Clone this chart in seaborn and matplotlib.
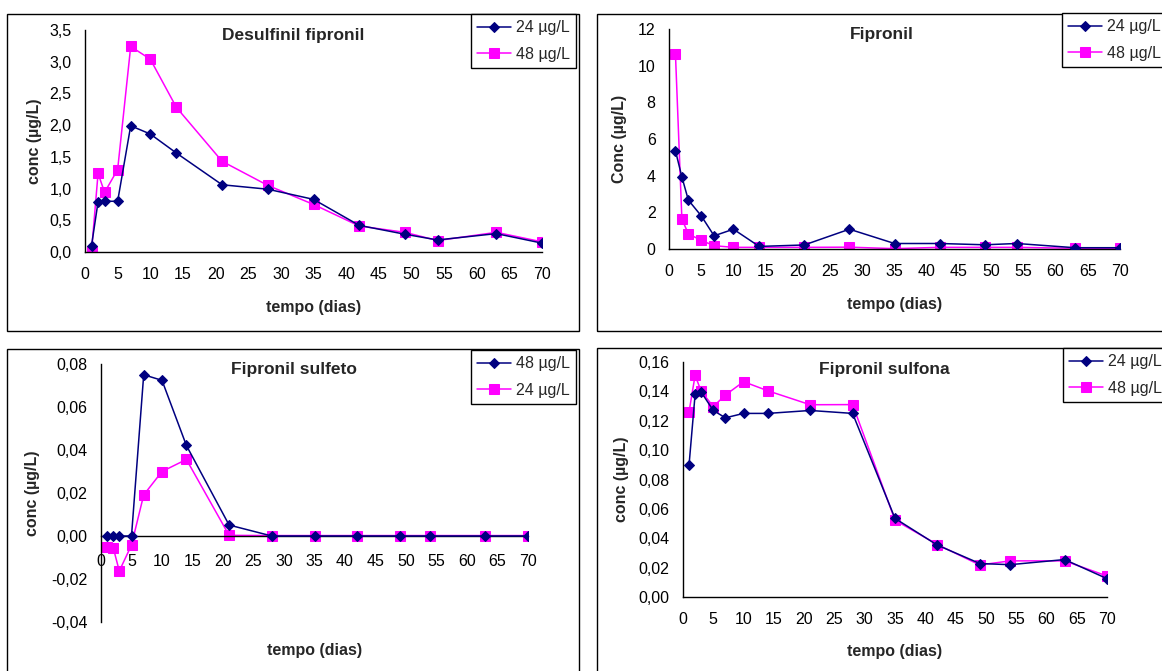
import matplotlib
matplotlib.use("Agg")
import matplotlib.pyplot as plt
from matplotlib.patches import Rectangle
import seaborn as sns
import pandas as pd

# ---------------- data ----------------
days = [1, 2, 3, 5, 7, 10, 14, 21, 28, 35, 42, 49, 54, 63, 70]

desulf_24 = [0.10, 0.79, 0.80, 0.80, 1.99, 1.86, 1.56, 1.06, 0.99, 0.83, 0.42, 0.28, 0.19, 0.29, 0.14]
desulf_48 = [0.01, 1.24, 0.94, 1.30, 3.24, 3.04, 2.28, 1.43, 1.05, 0.75, 0.41, 0.31, 0.18, 0.31, 0.16]

fip_24 = [5.36, 3.93, 2.67, 1.81, 0.72, 1.08, 0.14, 0.22, 1.08, 0.30, 0.30, 0.23, 0.30, 0.07, 0.07]
fip_48 = [10.65, 1.63, 0.83, 0.47, 0.18, 0.09, 0.09, 0.09, 0.10, 0.02, 0.09, 0.09, 0.09, 0.04, 0.04]

sulfeto_48 = [0.0, 0.0, 0.0, 0.0, 0.075, 0.0724, 0.0421, 0.0051, 0.0, 0.0, 0.0, 0.0, 0.0, 0.0, 0.0]
sulfeto_24 = [-0.0050, -0.0054, -0.0163, -0.0042, 0.0191, 0.0300, 0.0356, 0.0003, 0.0002, 0.0002, 0.0002, 0.0002, 0.0002, 0.0002, 0.0002]

sulfona_24 = [0.090, 0.138, 0.1395, 0.127, 0.122, 0.125, 0.125, 0.127, 0.125, 0.0535, 0.0353, 0.0228, 0.022, 0.0255, 0.0125]
sulfona_48 = [0.126, 0.151, 0.140, 0.1297, 0.1375, 0.1466, 0.1404, 0.1309, 0.131, 0.0523, 0.0357, 0.0218, 0.0246, 0.0246, 0.0143]

titles = ["Desulfinil fipronil", "Fipronil", "Fipronil sulfeto", "Fipronil sulfona"]
ylabels = ["conc (µg/L)", "Conc (µg/L)", "conc (µg/L)", "conc (µg/L)"]
xlabel = "tempo (dias)"

xticks = [0, 5, 10, 15, 20, 25, 30, 35, 40, 45, 50, 55, 60, 65, 70]
xtick_labels = ["0", "5", "10", "15", "20", "25", "30", "35", "40", "45", "50", "55", "60", "65", "70"]

yticks_a = [0.0, 0.5, 1.0, 1.5, 2.0, 2.5, 3.0, 3.5]
ylabels_a = ["0,0", "0,5", "1,0", "1,5", "2,0", "2,5", "3,0", "3,5"]
yticks_b = [0, 2, 4, 6, 8, 10, 12]
ylabels_b = ["0", "2", "4", "6", "8", "10", "12"]
yticks_c = [-0.04, -0.02, 0.0, 0.02, 0.04, 0.06, 0.08]
ylabels_c = ["-0,04", "-0,02", "0,00", "0,02", "0,04", "0,06", "0,08"]
yticks_d = [0.0, 0.02, 0.04, 0.06, 0.08, 0.10, 0.12, 0.14, 0.16]
ylabels_d = ["0,00", "0,02", "0,04", "0,06", "0,08", "0,10", "0,12", "0,14", "0,16"]

# ---------------- style ----------------
sns.set_style("white")
plt.rcParams["font.family"] = ["Liberation Sans", "DejaVu Sans"]

NAVY = "#000080"
MAG = "#FF00FF"

W, H = 1162, 671
fig = plt.figure(figsize=(W / 100, H / 100), dpi=100)
fig.patch.set_facecolor("white")


def frac_rect(x0, y0, x1, y1):
    return [x0 / W, 1 - y1 / H, (x1 - x0) / W, (y1 - y0) / H]


# panel borders
for (x0, y0, x1, y1) in [(7, 14, 579, 331), (597, 14, 1175, 331),
                         (7, 349, 579, 690), (597, 348, 1175, 690)]:
    r = frac_rect(x0, y0, x1, y1)
    fig.add_artist(Rectangle((r[0], r[1]), r[2], r[3], transform=fig.transFigure,
                             fill=False, edgecolor="black", linewidth=1.0, zorder=0))

panels = [
    dict(rect=(85, 30, 542, 252), ylim=(0, 3.5), yt=(yticks_a, ylabels_a),
         s1=(desulf_24, "24 µg/L"), s2=(desulf_48, "48 µg/L"),
         title=titles[0], tpos=(0.455, 0.973), ylab=ylabels[0],
         ylc=-0.11, xlc=-0.252, leg=(471, 14), zero=False),
    dict(rect=(669, 29, 1120, 249), ylim=(0, 12), yt=(yticks_b, ylabels_b),
         s1=(fip_24, "24 µg/L"), s2=(fip_48, "48 µg/L"),
         title=titles[1], tpos=(0.472, 0.977), ylab=ylabels[1],
         ylc=-0.109, xlc=-0.253, leg=(1062, 13), zero=False),
    dict(rect=(101, 364, 528, 622), ylim=(-0.04, 0.08), yt=(yticks_c, ylabels_c),
         s1=(sulfeto_48, "48 µg/L"), s2=(sulfeto_24, "24 µg/L"),
         title=titles[2], tpos=(0.451, 0.977), ylab=ylabels[2],
         ylc=-0.16, xlc=-0.112, leg=(471, 350), zero=True),
    dict(rect=(683, 362, 1107, 597), ylim=(0, 0.16), yt=(yticks_d, ylabels_d),
         s1=(sulfona_24, "24 µg/L"), s2=(sulfona_48, "48 µg/L"),
         title=titles[3], tpos=(0.475, 0.970), ylab=ylabels[3],
         ylc=-0.144, xlc=-0.23, leg=(1063, 348), zero=False),
]

for p in panels:
    ax = fig.add_axes(frac_rect(*p["rect"]))
    ax.set_facecolor("none")
    df = pd.DataFrame({"dia": days, "a": p["s1"][0], "b": p["s2"][0]})
    sns.lineplot(data=df, x="dia", y="a", ax=ax, color=NAVY, marker="D",
                 markersize=4.8, markeredgecolor=NAVY, linewidth=1.1,
                 sort=False, estimator=None, label=p["s1"][1], zorder=3)
    sns.lineplot(data=df, x="dia", y="b", ax=ax, color=MAG, marker="s",
                 markersize=6.6, markeredgecolor=MAG, linewidth=1.1,
                 sort=False, estimator=None, label=p["s2"][1], zorder=2)
    ax.set_xlim(0, 70)
    ax.set_ylim(*p["ylim"])
    ax.set_xticks(xticks, xtick_labels)
    ax.set_yticks(p["yt"][0], p["yt"][1])
    for s in ["top", "right"]:
        ax.spines[s].set_visible(False)
    for s in ["left", "bottom"]:
        ax.spines[s].set_color("black")
        ax.spines[s].set_linewidth(1.0)
    if p["zero"]:
        ax.spines["bottom"].set_position(("data", 0))
        ax.tick_params(axis="x", direction="in", length=3.6, width=1.0, pad=13, labelsize=11.5)
    else:
        ax.tick_params(axis="x", direction="out", length=3.6, width=1.0, pad=7, labelsize=11.5)
    ax.tick_params(axis="y", direction="out", length=3.6, width=1.0, pad=6, labelsize=11.5)
    ax.tick_params(colors="black")

    ax.set_xlabel(xlabel, fontsize=11.5, fontweight="bold")
    ax.set_ylabel(p["ylab"], fontsize=11.5, fontweight="bold")
    ax.xaxis.label.set_va("center")
    ax.yaxis.label.set_va("center")
    ax.xaxis.set_label_coords(0.5, p["xlc"])
    ax.yaxis.set_label_coords(p["ylc"], 0.5)

    ax.text(p["tpos"][0], p["tpos"][1], p["title"], transform=ax.transAxes,
            ha="center", va="center", fontsize=12.5, fontweight="bold")

    lx, ly = p["leg"]
    leg = ax.legend(loc="upper left", bbox_to_anchor=(lx / W, 1 - ly / H),
                    bbox_transform=fig.transFigure, frameon=True, fancybox=False,
                    edgecolor="black", framealpha=1, borderaxespad=0,
                    handlelength=2.1, handletextpad=0.3, borderpad=0.4,
                    labelspacing=0.7, fontsize=11.5)
    leg.get_frame().set_linewidth(1.0)

fig.savefig("out.png", dpi=100)
